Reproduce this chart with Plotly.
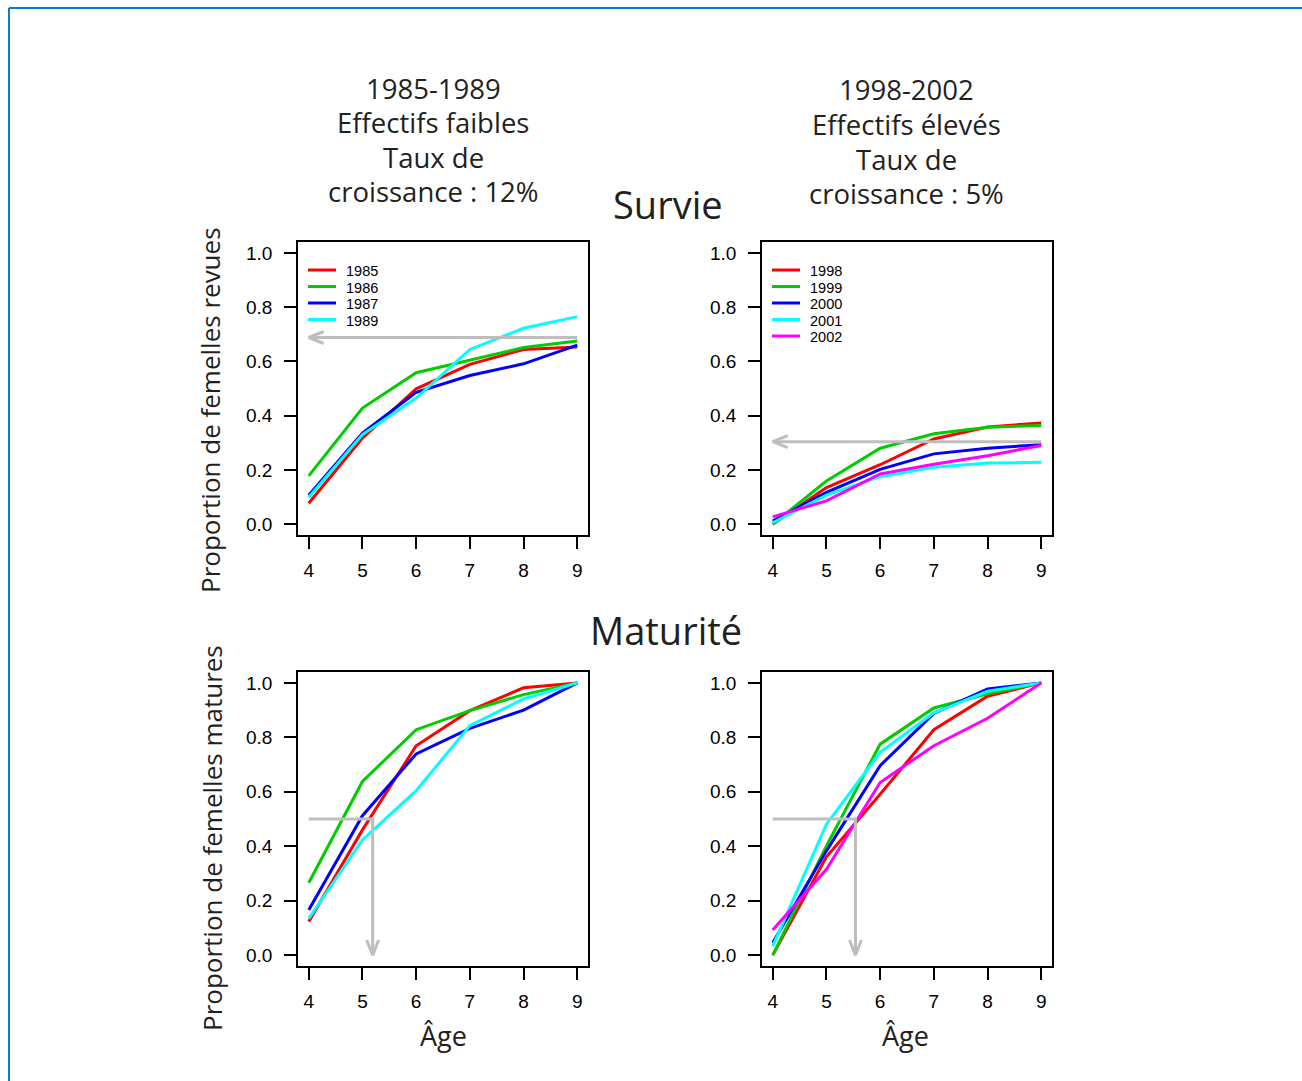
import plotly.graph_objects as go

W, H = 1302, 1081

ages = [4, 5, 6, 7, 8, 9]

# Survie (proportion of females resighted), 1985-1989
surv_low_years = ["1985", "1986", "1987", "1989"]
surv_1985 = [0.077, 0.317, 0.499, 0.589, 0.644, 0.653]
surv_1986 = [0.178, 0.428, 0.558, 0.604, 0.651, 0.675]
surv_1987 = [0.107, 0.336, 0.486, 0.548, 0.591, 0.660]
surv_1989 = [0.099, 0.330, 0.465, 0.644, 0.722, 0.765]

# Survie, 1998-2002
surv_high_years = ["1998", "1999", "2000", "2001", "2002"]
surv_1998 = [0.000, 0.135, 0.219, 0.314, 0.358, 0.373]
surv_1999 = [0.000, 0.159, 0.280, 0.333, 0.357, 0.364]
surv_2000 = [0.011, 0.117, 0.202, 0.259, 0.280, 0.293]
surv_2001 = [0.005, 0.107, 0.175, 0.210, 0.225, 0.228]
surv_2002 = [0.027, 0.086, 0.185, 0.221, 0.252, 0.290]

# Maturite, 1985-1989
mat_1985 = [0.123, 0.460, 0.769, 0.898, 0.982, 1.0]
mat_1986 = [0.266, 0.638, 0.828, 0.898, 0.957, 1.0]
mat_1987 = [0.166, 0.512, 0.739, 0.833, 0.900, 1.0]
mat_1989 = [0.134, 0.423, 0.604, 0.843, 0.941, 1.0]

# Maturite, 1998-2002
mat_1998 = [0.000, 0.361, 0.591, 0.828, 0.951, 1.0]
mat_1999 = [0.000, 0.401, 0.775, 0.908, 0.960, 1.0]
mat_2000 = [0.045, 0.383, 0.696, 0.888, 0.978, 1.0]
mat_2001 = [0.033, 0.481, 0.745, 0.890, 0.969, 1.0]
mat_2002 = [0.092, 0.315, 0.634, 0.769, 0.870, 1.0]

# Reference arrows
surv_mean_level = [0.688, 0.304]      # horizontal grey arrows (left, right)
mat_half = 0.5                        # maturity level for age at 50 %
mat_age50 = [5.19, 5.54]              # age at 50 % maturity (left, right)

y_ticks = [0, 0.2, 0.4, 0.6, 0.8, 1.0]

colors = ["#FF0000", "#00CD00", "#0000FF", "#00FFFF", "#FF00FF"]
colors_low = ["#FF0000", "#00CD00", "#0000FF", "#00FFFF"]
GREY = "#BEBEBE"

fig = go.Figure()

def dom_x(a, b):
    return [a / W, b / W]

def dom_y(top, bottom):
    return [1 - bottom / H, 1 - top / H]

panels = {
    1: (dom_x(298, 588), dom_y(242, 535)),
    2: (dom_x(762, 1052), dom_y(242, 535)),
    3: (dom_x(298, 588), dom_y(672, 966)),
    4: (dom_x(762, 1052), dom_y(672, 966)),
}

def axname(i, kind):
    return kind if i == 1 else f"{kind}{i}"

def add_series(i, series, names, cols):
    for ys, nm, c in zip(series, names, cols):
        fig.add_trace(go.Scatter(
            x=ages, y=ys, mode="lines", name=nm,
            line=dict(color=c, width=3),
            xaxis=axname(i, "x"), yaxis=axname(i, "y"),
            showlegend=False,
        ))

add_series(1, [surv_1985, surv_1986, surv_1987, surv_1989], surv_low_years, colors_low)
add_series(2, [surv_1998, surv_1999, surv_2000, surv_2001, surv_2002], surv_high_years, colors)
add_series(3, [mat_1985, mat_1986, mat_1987, mat_1989], surv_low_years, colors_low)
add_series(4, [mat_1998, mat_1999, mat_2000, mat_2001, mat_2002], surv_high_years, colors)

# Arrow head sizes in pixels converted into data units
xunit = (290 / 5.4)   # px per age unit
yunit = (293 / 1.08)  # px per proportion unit
head_len_px, head_half_px = 15, 6

def grey_line(i, xs, ys):
    fig.add_trace(go.Scatter(
        x=xs, y=ys, mode="lines", line=dict(color=GREY, width=3),
        xaxis=axname(i, "x"), yaxis=axname(i, "y"), showlegend=False,
        hoverinfo="skip"))

for i, lvl in zip([1, 2], surv_mean_level):
    x0, x1 = ages[-1], ages[0]
    grey_line(i, [x0, x1], [lvl, lvl])
    dx = head_len_px / xunit
    dy = head_half_px / yunit
    grey_line(i, [x1 + dx, x1, x1 + dx], [lvl + dy, lvl, lvl - dy])

for i, a50 in zip([3, 4], mat_age50):
    grey_line(i, [ages[0], a50, a50], [mat_half, mat_half, 0.0])
    dx = head_half_px / xunit
    dy = head_len_px / yunit
    grey_line(i, [a50 - dx, a50, a50 + dx], [dy, 0.0, dy])

tickfont = dict(family="Liberation Sans, Arial, sans-serif", size=19, color="#000000")
for i, (dx_, dy_) in panels.items():
    xa = dict(domain=dx_, range=[3.8, 9.2], tickmode="array", tickvals=ages,
              ticks="outside", ticklen=12, tickwidth=1.5, tickcolor="#000",
              showline=True, linecolor="#000", linewidth=1.5, mirror=True,
              showgrid=False, zeroline=False, tickfont=tickfont,
              ticklabelstandoff=5, anchor=axname(i, "y"))
    ya = dict(domain=dy_, range=[-0.04, 1.04], tickmode="array",
              tickvals=y_ticks, tickformat=".1f",
              ticks="outside", ticklen=12, tickwidth=1.5, tickcolor="#000",
              showline=True, linecolor="#000", linewidth=1.5, mirror=True,
              showgrid=False, zeroline=False, tickfont=tickfont,
              ticklabelstandoff=8, anchor=axname(i, "x"))
    fig.update_layout(**{("xaxis" if i == 1 else f"xaxis{i}"): xa,
                         ("yaxis" if i == 1 else f"yaxis{i}"): ya})

TXT = "#231F20"
tfont = "Open Sans, Noto Sans, sans-serif"

def ann(text, px, py, size, angle=0, xanchor="center", family=tfont, color=TXT):
    fig.add_annotation(text=text, x=px / W, y=1 - py / H, xref="paper", yref="paper",
                       showarrow=False, xanchor=xanchor, yanchor="middle",
                       textangle=angle, font=dict(family=family, size=size, color=color))

left_title = ["1985-1989", "Effectifs faibles", "Taux de", "croissance : 12%"]
right_title = ["1998-2002", "Effectifs élevés", "Taux de", "croissance : 5%"]
for k, line in enumerate(left_title):
    ann(line, 433, 88 + k * 34.5, 27.5)
for k, line in enumerate(right_title):
    ann(line, 906, 90 + k * 34.5, 27.5)

ann("Survie", 668, 204, 38)
ann("Maturité", 666, 630, 38)
ann("Proportion de femelles revues", 210, 410, 26, -90)
ann("Proportion de femelles matures", 212, 838, 26, -90)
ann("Âge", 443, 1035, 27)
ann("Âge", 905, 1035, 27)

# Legends (drawn in each upper panel)
shapes = []
legfam = "Liberation Sans, Arial, sans-serif"
for x_left, names, cols in [(308, surv_low_years, colors_low), (772, surv_high_years, colors)]:
    for k, (nm, c) in enumerate(zip(names, cols)):
        yy = 270 + k * 16.5
        shapes.append(dict(type="line", xref="paper", yref="paper",
                           x0=x_left / W, x1=(x_left + 28) / W,
                           y0=1 - yy / H, y1=1 - yy / H,
                           line=dict(color=c, width=3)))
        ann(nm, x_left + 36, yy + 1, 14.5, xanchor="left", family=legfam, color="#000")

shapes += [
    dict(type="line", xref="paper", yref="paper", x0=9 / W, x1=1.0,
         y0=1 - 8 / H, y1=1 - 8 / H, line=dict(color="#0A7BD0", width=2)),
    dict(type="line", xref="paper", yref="paper", x0=9 / W, x1=9 / W,
         y0=1 - 8 / H, y1=0, line=dict(color="#0A7BD0", width=2)),
]

fig.update_layout(
    width=W, height=H,
    margin=dict(l=0, r=0, t=0, b=0),
    paper_bgcolor="white", plot_bgcolor="white",
    showlegend=False,
    shapes=shapes,
)

fig.write_html("out.html")
